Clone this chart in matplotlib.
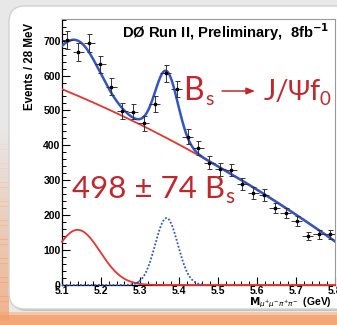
import numpy as np
import matplotlib
matplotlib.use("Agg")
import matplotlib.pyplot as plt
from matplotlib.patches import FancyBboxPatch, Rectangle
from matplotlib.ticker import MultipleLocator

# ---- data: mu+mu-pi+pi- invariant mass, 28 MeV bins from 5.1 to 5.8 GeV ----
bin_lo = 5.1
bin_width = 0.028
counts = [702, 668, 694, 632, 568, 498, 497, 463, 518, 607, 561, 425, 393,
          350, 331, 329, 290, 264, 258, 220, 207, 184, 140, 145, 145]

# ---- fit result ----
sig_yield = 498          # B_s -> J/psi f0 candidates
sig_yield_err = 74
sig_mean = 5.368         # GeV
sig_sigma = 0.029        # GeV
bkg_coef = [561.0, -459.0, -234.0]   # quadratic in (m - 5.1)
refl_amp = 158.0         # low-mass reflection
refl_mean = 5.14
refl_sigma = 0.0575

x_ticks = [5.1, 5.2, 5.3, 5.4, 5.5, 5.6, 5.7, 5.8]
y_ticks = [0, 100, 200, 300, 400, 500, 600, 700]

W, H = 337, 325
fig = plt.figure(figsize=(W / 100, H / 100), dpi=100)
renderer = fig.canvas.get_renderer()

# ---- slide panel behind the plot (pixel coordinates, y downwards) ----
bg = fig.add_axes([0, 0, 1, 1], zorder=-5)
bg.axis("off")
bg.add_patch(Rectangle((0, 0), W, H, facecolor="#e8e8e8", edgecolor="none", zorder=0))
# orange band along the bottom edge
bg.add_patch(Rectangle((0, 314), W, 11, facecolor="#f3a677", edgecolor="none", zorder=0.5))
bg.add_patch(Rectangle((0, 312), W, 3, facecolor="#f6c6a6", edgecolor="none", zorder=0.6))
# orange glow on the lower left edge
steps = 40
for i in range(steps):
    y0 = 130 + i * (190 / steps)
    a = (i + 1) / steps
    bg.add_patch(Rectangle((0, y0), 9, 190 / steps + 0.5, facecolor="#f2a070",
                           alpha=0.75 * a, edgecolor="none", zorder=0.7))
bg.add_patch(FancyBboxPatch((11, 8), W + 20, 303,
                            boxstyle="round,pad=0,rounding_size=16",
                            facecolor="#c2c2c2", edgecolor="none", zorder=1))
bg.add_patch(FancyBboxPatch((9, 6), W + 20, 303,
                            boxstyle="round,pad=0,rounding_size=16",
                            facecolor="white", edgecolor="#d2d2d2",
                            linewidth=1.0, zorder=2))
bg.set_xlim(0, W)
bg.set_ylim(H, 0)

# ---- main axes ----
ax = fig.add_axes([62 / W, 1 - 285 / H, (335 - 62) / W, (285 - 19) / H])
ax.patch.set_alpha(0)

centers = bin_lo + bin_width * (np.arange(len(counts)) + 0.5)
counts = np.asarray(counts, dtype=float)
errs = np.sqrt(counts)

m = np.linspace(5.1, 5.8, 700)
d = m - 5.1
bkg = bkg_coef[0] + bkg_coef[1] * d + bkg_coef[2] * d ** 2
refl = refl_amp * np.exp(-0.5 * ((m - refl_mean) / refl_sigma) ** 2)
sig = sig_yield * bin_width / (np.sqrt(2 * np.pi) * sig_sigma) * \
    np.exp(-0.5 * ((m - sig_mean) / sig_sigma) ** 2)
total = bkg + refl + sig

red = "#e8342f"
blue = "#3355c4"
ax.plot(m, bkg, color=red, lw=1.3, zorder=3)
ax.plot(m, refl, color=red, lw=1.3, zorder=3, clip_on=False)
ax.plot(m, total, color=blue, lw=1.8, zorder=4)
sig_mask = (m > 5.29) & (m < 5.46)
ax.plot(m[sig_mask], sig[sig_mask], color=blue, lw=1.3, ls=(0, (1, 1)), zorder=4)
low = m < 5.30
ax.plot(m[low], sig[low], color=blue, lw=1.3, ls=(0, (1, 1)), zorder=4,
        clip_on=False)

ax.errorbar(centers, counts, xerr=bin_width / 2, fmt="none", ecolor="#333333",
            elinewidth=0.7, capsize=0, zorder=5)
ax.errorbar(centers, counts, yerr=errs, fmt="s", ms=2.0, color="black",
            ecolor="#333333", elinewidth=0.7, capsize=1.8, capthick=0.7, zorder=6)

ax.set_xlim(5.1, 5.8)
ax.set_ylim(0, 762)
ax.set_xticks(x_ticks)
ax.set_yticks(y_ticks)
ax.set_xticklabels([f"{v:.1f}" for v in x_ticks])
ax.set_yticklabels([str(v) for v in y_ticks])
ax.xaxis.set_minor_locator(MultipleLocator(0.02))
ax.yaxis.set_minor_locator(MultipleLocator(20))
ax.tick_params(which="both", direction="in", top=False, right=False)
ax.tick_params(which="major", length=6, width=0.8)
ax.tick_params(which="minor", length=3, width=0.7)
ax.tick_params(axis="y", pad=1)
ax.tick_params(axis="x", pad=0.5)
for lab in ax.get_xticklabels() + ax.get_yticklabels():
    lab.set_fontfamily("Liberation Sans")
    lab.set_fontweight("bold")
    lab.set_fontsize(7.5)
for s in ("left", "bottom"):
    ax.spines[s].set_linewidth(0.9)
for s in ("top", "right"):
    ax.spines[s].set_color("#999999")
    ax.spines[s].set_linewidth(0.8)

# ---- axis titles and header ----
bg.text(30, 66, "Events / 28 MeV", rotation=90, ha="center", va="center",
        fontfamily="Liberation Sans", fontweight="bold", fontsize=8.3, zorder=10)
bg.text(332, 303, r"$\mathbf{M}_{\mu^{+}\mu^{-}\pi^{+}\pi^{-}}$  (GeV)", ha="right",
        va="center", fontfamily="Liberation Sans", fontweight="bold",
        fontsize=7.5, zorder=10)
bg.text(122, 38, "DØ Run II, Preliminary,  8fb$^{\\mathbf{-1}}$", ha="left",
        va="baseline", fontfamily="Liberation Sans", fontweight="bold",
        fontsize=10.6, zorder=10)

# ---- decay and yield annotations ----
txt_red = "#c1272d"
big = dict(fontfamily=["Lato", "DejaVu Sans"], color=txt_red, zorder=10,
           va="baseline", ha="left")


def put_text(x0, y, s, size):
    """Draw s starting at x0 and return where it ends."""
    t = bg.text(x0, y, s, fontsize=size, **big)
    return t.get_window_extent(renderer).x1


put_text(183, 100, "B", 23)
put_text(205, 105, "s", 14)
bg.annotate("", xy=(255, 91), xytext=(222, 91),
            arrowprops=dict(arrowstyle="-|>,head_length=0.5,head_width=0.2",
                            color=txt_red, lw=1.1, shrinkA=0, shrinkB=0),
            zorder=10)
xe = put_text(264, 100, "J/", 21)
xe = put_text(xe - 1.5, 100, "Ψ", 19.5)
xe = put_text(xe - 0.5, 100, "f", 21)
put_text(xe - 0.5, 105, "0", 13.5)

xe = put_text(72, 198, f"{sig_yield} ± {sig_yield_err} B", 22.5)
put_text(xe + 0.5, 203, "s", 15)

fig.savefig("out.png", dpi=100)
